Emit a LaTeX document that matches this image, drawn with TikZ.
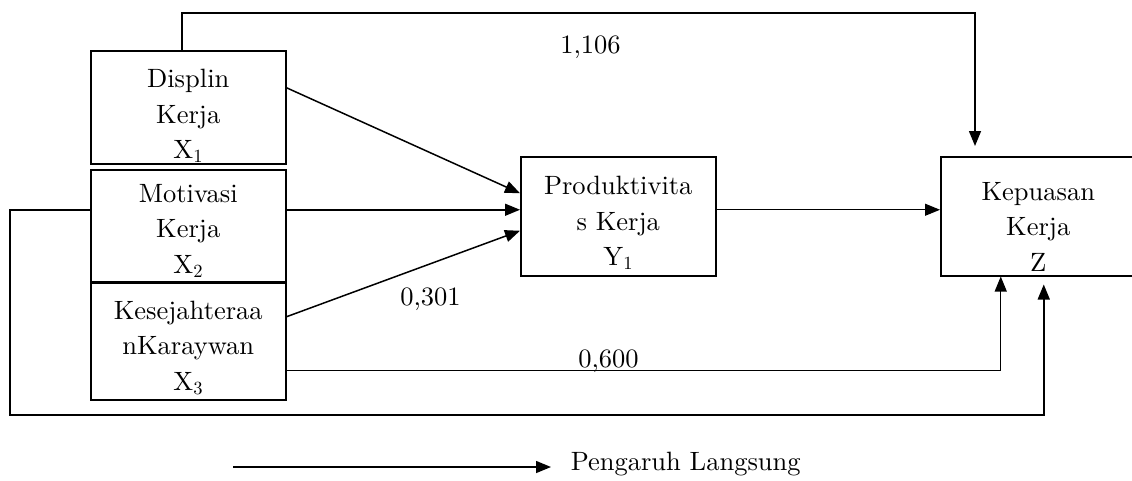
\documentclass[tikz,border=0pt]{standalone}
\usepackage{fontspec}
\setmainfont{lmroman10}[Extension=.otf,UprightFont=*-regular,BoldFont=*-bold]
\usetikzlibrary{arrows.meta}
\begin{document}
\begin{tikzpicture}[x=1pt,y=-1pt,line width=1.5pt,
  box/.style={draw,rectangle,inner sep=0pt,anchor=north west,minimum width=195pt},
  txt/.style={font=\fontsize{26.5}{35.5}\selectfont,align=center,inner sep=0pt},
  val/.style={font=\fontsize{26.5}{31}\selectfont,inner sep=0pt,anchor=base},
  arr/.style={-{Triangle[length=15pt,width=12pt]}}]
\useasboundingbox (0,0) rectangle (1132,480);

% variable boxes
\node[box,minimum height=113pt] (x1) at (90,50) {};
\node[box,minimum height=112pt] (x2) at (90,169) {};
\node[box,minimum height=117pt] (x3) at (90,282) {};
\node[box,minimum height=119pt] (y)  at (520,156) {};
\node[box,minimum height=119pt] (z)  at (940,156) {};

\node[txt,yshift=-8.5pt] (tx1) at (x1.center) {Displin\\Kerja\\X\textsubscript{1}};
\node[txt,yshift=-5pt]   (tx2) at (x2.center) {Motivasi\\Kerja\\X\textsubscript{2}};
\node[txt,yshift=-6.5pt] (tx3) at (x3.center) {Kesejahteraa\\nKaraywan\\X\textsubscript{3}};
\node[txt,yshift=-6.5pt] (ty)  at (y.center)  {Produktivita\\s Kerja\\Y\textsubscript{1}};
\node[txt,yshift=-10.5pt] (tz) at (z.center)  {Kepuasan\\Kerja\\Z};

% helper points for the routed connectors
\coordinate (top) at (0,13);
\coordinate (zin) at (975,146);
\coordinate (lft) at (10,415);

% paths into Y1
\draw[arr] ([yshift=19.5pt]x1.east) -- ([yshift=23pt]y.west);
\draw[arr] ([yshift=16pt]x2.east)   -- ([yshift=6.5pt]y.west);
\draw[arr] ([yshift=24.5pt]x3.east) -- ([yshift=-14.5pt]y.west);

% paths into Z
\draw[arr,line width=1.1pt] ([yshift=6.5pt]y.east) -- ([yshift=6.5pt]z.west);
\draw[arr] ([xshift=-6.5pt]x1.north) |- (zin |- top) -- (zin);
\draw[arr,line width=1.1pt] ([yshift=-29.5pt]x3.east) -| ([xshift=-37.5pt]z.south);
\draw[arr] ([yshift=16pt]x2.west) -| (lft) -| ([xshift=5.5pt,yshift=-8pt]z.south);

% path coefficients
\node[val] (c1) at (590.5,53) {1,106};
\node[val] (c2) at (430.5,305) {0,301};
\node[val] (c3) at (608.5,367) {0,600};

% legend
\coordinate (la) at (233,467);
\coordinate (lb) at (551,467);
\draw[arr] (la) -- (lb);
\node[val,anchor=base west] (leg) at (570,470) {Pengaruh Langsung};
\end{tikzpicture}
\end{document}
